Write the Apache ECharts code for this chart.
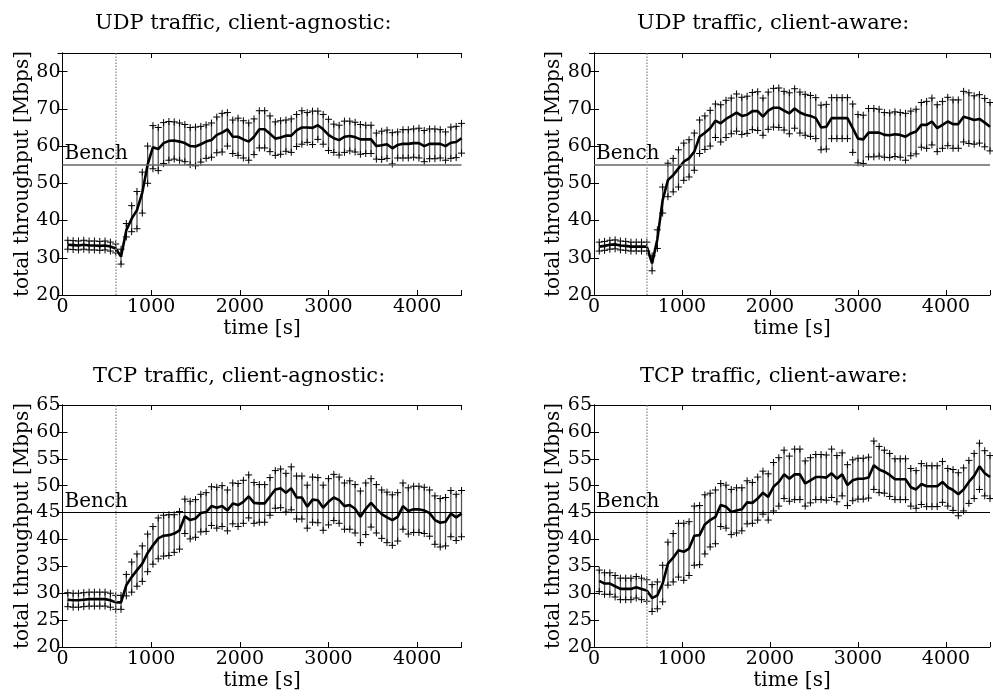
<!DOCTYPE html>
<html><head><meta charset="utf-8">
<script src="https://cdn.jsdelivr.net/npm/echarts@6/dist/echarts.min.js"></script>
<style>html,body{margin:0;padding:0;background:#fff}#c{width:993px;height:698px}</style>
</head><body><div id="c"></div>
<script>
const times = [60,120,180,240,300,360,420,480,540,600,660,720,780,840,900,960,1020,1080,1140,1200,
1260,1320,1380,1440,1500,1560,1620,1680,1740,1800,1860,1920,1980,2040,2100,2160,2220,2280,2340,2400,
2460,2520,2580,2640,2700,2760,2820,2880,2940,3000,3060,3120,3180,3240,3300,3360,3420,3480,3540,3600,
3660,3720,3780,3840,3900,3960,4020,4080,4140,4200,4260,4320,4380,4440,4500];

const udpAgnMean = [33.5,33.4,33.3,33.5,33.3,33.3,33.2,33.3,33.0,32.5,
30.3,37.4,40.5,42.8,47.5,55.0,59.7,59.2,60.8,61.4,
61.5,61.2,60.8,60.0,59.9,60.5,61.2,61.6,63.0,63.6,
64.5,62.5,62.5,61.8,61.2,62.5,64.5,64.5,63.3,62.0,
62.3,62.8,62.8,64.2,65.0,65.0,64.9,65.6,64.5,63.0,
62.1,61.6,62.5,62.7,62.4,61.8,61.8,61.8,60.0,60.2,
60.5,59.4,60.3,60.6,60.6,60.8,60.8,60.0,60.6,60.6,
60.6,60.0,60.9,61.1,62.1];
const udpAgnErr = [1.2,1.2,1.2,1.2,1.2,1.2,1.2,1.2,1.2,1.2,
2.0,1.8,3.5,5.0,5.5,5.0,5.8,5.8,5.5,5.2,
5.0,5.0,5.0,5.0,5.2,4.8,4.5,4.6,4.8,5.2,
4.5,4.5,5.0,5.0,5.0,4.8,5.0,5.0,4.8,4.5,
4.5,4.2,4.5,4.3,4.5,4.0,4.5,3.8,4.0,4.2,
3.8,4.0,4.2,4.0,4.0,4.0,3.8,3.8,3.5,3.8,
3.8,4.2,3.5,3.8,3.8,3.8,4.0,4.2,4.0,4.0,
3.8,3.8,4.2,4.2,4.0];

const udpAwMean = [33.0,33.2,33.5,33.6,33.3,33.2,33.0,33.0,33.0,33.0,
28.5,35.0,45.5,50.9,52.2,54.0,55.8,56.7,58.5,62.5,
63.6,64.8,66.8,66.1,67.3,68.1,69.0,68.1,68.4,69.4,
69.4,67.9,69.5,70.3,70.3,69.5,68.8,70.1,69.0,68.4,
68.1,67.5,65.0,65.2,67.5,67.5,67.5,67.5,64.8,62.0,
61.8,63.6,63.6,63.6,63.0,62.9,63.2,63.0,62.5,63.4,
63.9,65.7,65.7,66.6,64.8,65.7,66.6,65.9,65.9,67.9,
67.5,67.0,67.3,66.3,65.2];
const udpAwErr = [1.2,1.2,1.2,1.2,1.2,1.2,1.2,1.2,1.2,1.2,
2.0,2.5,3.5,4.5,4.5,5.0,5.0,5.0,5.0,4.5,
4.5,4.8,4.5,5.0,5.0,4.8,5.0,5.0,5.0,5.0,
5.2,5.0,5.0,5.2,5.3,5.2,5.5,5.3,5.5,5.5,
5.5,5.5,6.0,6.0,5.5,5.5,5.5,5.5,6.5,6.5,
6.5,6.5,6.5,6.3,6.0,6.0,6.0,6.0,6.3,6.0,
6.0,6.0,6.3,6.3,6.3,6.3,6.5,6.5,6.5,6.8,
6.8,6.5,6.5,6.5,6.5];

const tcpAgnMean = [28.8,28.7,28.7,28.8,28.9,28.9,28.9,28.9,28.7,28.3,
28.3,31.5,33.0,34.3,35.5,37.5,38.9,40.2,40.7,40.8,
41.1,41.7,44.3,43.6,43.9,44.9,45.1,46.2,45.9,46.2,
45.4,46.7,46.4,47.0,48.0,46.8,46.7,46.7,48.0,49.3,
49.5,48.7,49.5,47.8,47.8,46.1,47.4,47.3,45.9,47.0,
47.8,47.3,46.2,46.4,45.7,44.2,45.7,46.8,45.7,44.7,
44.1,43.6,44.2,46.2,45.3,45.6,45.6,45.4,44.9,43.6,
43.1,43.3,44.8,44.1,44.8];
const tcpAgnErr = [1.3,1.3,1.3,1.3,1.3,1.3,1.3,1.3,1.3,1.3,
1.3,2.0,2.8,3.0,3.3,3.5,3.5,3.8,3.8,3.8,
3.5,3.5,3.2,3.5,3.5,3.5,3.6,3.6,3.8,3.8,
3.8,3.8,4.0,4.0,4.0,3.8,3.5,3.5,3.5,3.5,
3.6,3.6,4.0,4.0,4.0,4.0,4.2,4.2,4.2,4.3,
4.3,4.3,4.3,4.5,4.5,4.8,4.8,4.5,4.5,4.5,
4.7,4.7,4.5,4.3,4.3,4.3,4.3,4.3,4.3,4.5,
4.5,4.5,4.3,4.3,4.3];

const tcpAwMean = [32.3,31.8,31.8,31.3,30.8,30.8,30.8,31.1,30.8,30.5,
29.1,29.6,31.8,35.5,36.6,38.0,37.7,38.3,40.7,40.8,
42.8,43.6,44.2,46.4,46.1,45.1,45.4,45.6,46.9,46.8,
47.6,48.7,47.9,49.8,50.7,52.1,51.3,52.1,52.1,50.4,
51.0,51.6,51.6,51.5,52.3,51.3,52.1,50.1,51.0,51.3,
51.3,51.5,53.8,53.0,52.6,52.0,51.2,51.2,51.2,49.7,
49.3,50.3,49.9,49.9,49.9,50.7,49.7,49.2,48.4,49.3,
50.7,51.8,53.6,52.3,51.6];
const tcpAwErr = [2.0,2.0,2.0,2.0,2.0,2.0,2.0,2.0,2.0,2.0,
2.5,2.5,3.4,4.0,4.5,5.0,5.3,5.0,5.5,5.5,
5.5,5.0,5.0,4.0,4.0,4.2,4.2,4.0,4.0,3.8,
4.0,4.0,4.3,4.5,4.5,4.5,4.2,4.7,4.7,4.2,
4.2,4.2,4.2,4.2,4.5,4.3,4.0,3.8,3.8,3.8,
3.8,3.8,4.5,4.3,4.0,4.0,3.8,3.8,3.8,3.5,
3.5,3.8,3.8,3.8,3.8,3.8,3.5,3.8,4.0,4.0,
4.0,4.2,4.3,4.2,4.0];

const titles = ['UDP traffic, client-agnostic:','UDP traffic, client-aware:','TCP traffic, client-agnostic:','TCP traffic, client-aware:'];
const xTicks = [0,1000,2000,3000,4000];
const benchValues = [55,55,45,45];
const startTime = 600;
const xLabel = 'time [s]';
const yLabel = 'total throughput [Mbps]';
const yRanges = [[20,85,10],[20,85,10],[20,65,5],[20,65,5]];

const means = [udpAgnMean, udpAwMean, tcpAgnMean, tcpAwMean];
const errs = [udpAgnErr, udpAwErr, tcpAgnErr, tcpAwErr];

const FONT = 'DejaVu Serif';
const grids = [
  {left:62.5, top:53, width:399, height:242},
  {left:594, top:53, width:399, height:242},
  {left:62.5, top:405, width:399, height:242},
  {left:594, top:405, width:399, height:242}
];
const titlePos = [[90,8],[632,8],[88,361],[635,361]];

function errRender(params, api) {
  const x = api.value(0), lo = api.value(1), hi = api.value(2);
  const a = api.coord([x, lo]), b = api.coord([x, hi]);
  const s = 3.5;
  const cross = p => [
    {type:'line', shape:{x1:p[0]-s,y1:p[1],x2:p[0]+s,y2:p[1]}, style:{stroke:'#000', lineWidth:1}},
    {type:'line', shape:{x1:p[0],y1:p[1]-s,x2:p[0],y2:p[1]+s}, style:{stroke:'#000', lineWidth:1}}
  ];
  return {type:'group', children:[
    {type:'line', shape:{x1:a[0],y1:a[1],x2:b[0],y2:b[1]}, style:{stroke:'#555', lineWidth:1.3}}
  ].concat(cross(a), cross(b))};
}

const xAxes = [], yAxes = [], series = [], titleArr = [];
for (let k = 0; k < 4; k++) {
  const [ymin, ymax, yint] = yRanges[k];
  xAxes.push({
    gridIndex:k, type:'value', min:0, max:4500, interval:1000, position:'bottom',
    axisLine:{show:true, lineStyle:{color:'#000', width:1}},
    axisTick:{show:true, inside:true, length:5, lineStyle:{color:'#000'}},
    axisLabel:{show:true, color:'#000', fontFamily:FONT, fontSize:19, margin:3,
      formatter: v => xTicks.indexOf(v) >= 0 ? String(v) : ''},
    splitLine:{show:false},
    name:xLabel, nameLocation:'middle', nameGap:24,
    nameTextStyle:{color:'#000', fontFamily:FONT, fontSize:20}
  });
  xAxes.push({
    gridIndex:k, type:'value', min:0, max:4500, interval:1000, position:'top',
    axisLine:{show:true, lineStyle:{color:'#000', width:1}},
    axisTick:{show:true, inside:true, length:5, lineStyle:{color:'#000'}},
    axisLabel:{show:false}, splitLine:{show:false}
  });
  yAxes.push({
    gridIndex:k, type:'value', min:ymin, max:ymax, interval:yint, position:'left',
    axisLine:{show:true, lineStyle:{color:'#000', width:1}},
    axisTick:{show:true, inside:true, length:5, lineStyle:{color:'#000'}},
    axisLabel:{show:true, color:'#000', fontFamily:FONT, fontSize:19, margin:2,
      formatter: v => (v === ymax && (ymax - ymin) % yint !== 0) ? '' : String(v)},
    splitLine:{show:false},
    name:yLabel, nameLocation:'middle', nameGap:30,
    nameTextStyle:{color:'#000', fontFamily:FONT, fontSize:20}
  });
  yAxes.push({
    gridIndex:k, type:'value', min:ymin, max:ymax, interval:yint, position:'right',
    axisLine:{show:true, lineStyle:{color:'#000', width:1}},
    axisTick:{show:true, inside:true, length:5, lineStyle:{color:'#000'}},
    axisLabel:{show:false}, splitLine:{show:false}
  });
  const m = means[k], e = errs[k];
  const errData = times.map((t, i) => [t, m[i] - e[i], m[i] + e[i]]);
  series.push({
    type:'custom', xAxisIndex:2*k, yAxisIndex:2*k, renderItem:errRender,
    data:errData, encode:{x:0, y:[1,2]}, silent:true, z:2
  });
  series.push({
    type:'line', xAxisIndex:2*k, yAxisIndex:2*k, data:times.map((t,i)=>[t, m[i]]),
    showSymbol:false, symbol:'none', lineStyle:{color:'#000', width:2.6}, z:3, silent:true,
    markLine:{silent:true, symbol:'none', animation:false, data:[
      {yAxis:benchValues[k], lineStyle:{color: k < 2 ? '#666' : '#000', width: k < 2 ? 1.5 : 1, type:'solid'},
        label:{show:true, position:'insideStartTop', formatter:'Bench', color:'#000', fontFamily:FONT, fontSize:20, distance:[2,1]}},
      {xAxis:startTime, lineStyle:{color:'#999', width:1.5, type:'dotted'}, label:{show:false}}
    ]}
  });
  titleArr.push({text:titles[k], left:titlePos[k][0], top:titlePos[k][1],
    textStyle:{color:'#000', fontFamily:FONT, fontSize:21, fontWeight:'normal'}});
}

const chart = echarts.init(document.getElementById('c'), null, {renderer:'canvas'});
chart.setOption({
  animation:false, backgroundColor:'#fff',
  title:titleArr, grid:grids, xAxis:xAxes, yAxis:yAxes, series:series
});
</script></body></html>
